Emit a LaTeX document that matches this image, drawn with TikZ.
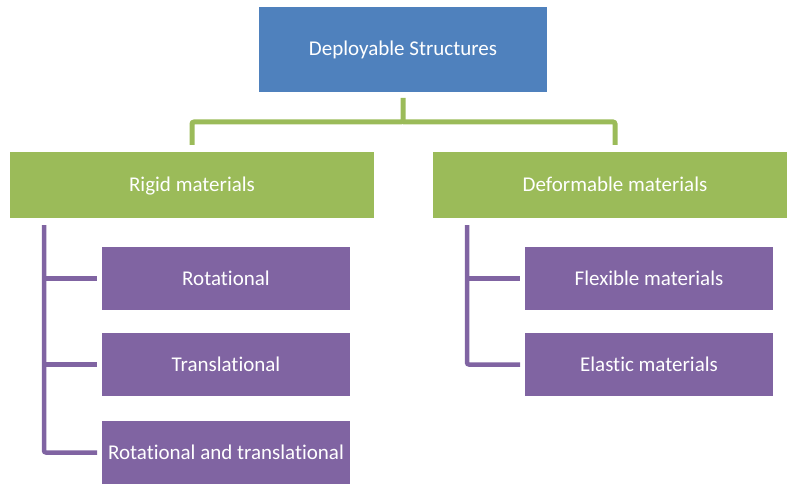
\documentclass[tikz,border=0pt]{standalone}
\usepackage{fontspec}
\setmainfont{Carlito}[Ligatures={NoCommon}]
\definecolor{cblue}{HTML}{4F81BD}
\definecolor{cgreen}{HTML}{9BBB59}
\definecolor{cpurple}{HTML}{8064A2}
\tikzset{
  box/.style={draw=none, text=white, font=\fontsize{21}{24}\selectfont, inner sep=0pt, text height=15.5pt, text depth=2.5pt},
  gline/.style={draw=cgreen, line width=5pt, rounded corners=2pt},
  pline/.style={draw=cpurple, line width=4.5pt, rounded corners=2pt},
}
\begin{document}
\begin{tikzpicture}[x=1pt,y=-1pt]
\useasboundingbox (0,0) rectangle (787,484);
\clip (0,0) rectangle (787,484);
% boxes
\fill[cblue] (259,7) rectangle (547,92);
\node[box] (top) at (403,49.5) {Deployable Structures};
\coordinate (tops) at (403,92);
\fill[cgreen] (10,152) rectangle (374,218);
\node[box] (left) at (192,185) {Rigid materials};
\fill[cgreen] (433,152) rectangle (797,218);
\node[box] (right) at (615,185) {Deformable materials};
\coordinate (ln) at (192,152);
\coordinate (rn) at (615,152);
\coordinate (lsw) at (10,218);
\coordinate (rsw) at (433,218);
\fill[cpurple] (102,247) rectangle (350,310);
\node[box] (r1) at (226,278.5) {Rotational};
\fill[cpurple] (102,333) rectangle (350,396);
\node[box] (r2) at (226,364.5) {Translational};
\fill[cpurple] (102,421) rectangle (350,484);
\node[box] (r3) at (226,452.5) {Rotational and translational};
\fill[cpurple] (525,247) rectangle (773,310);
\node[box] (d1) at (649,278.5) {Flexible materials};
\fill[cpurple] (525,333) rectangle (773,396);
\node[box] (d2) at (649,364.5) {Elastic materials};
\coordinate (r1w) at (102,278.5);
\coordinate (r2w) at (102,364.5);
\coordinate (r3w) at (102,452.5);
\coordinate (d1w) at (525,278.5);
\coordinate (d2w) at (525,364.5);
% green connectors
\draw[gline] ([yshift=-6]tops) -- (403,122) -| ([yshift=7]ln);
\draw[gline] (403,122) -| ([yshift=7]rn);
% purple connectors
\draw[pline] ([xshift=34,yshift=-7]lsw) |- ([xshift=-5]r3w);
\draw[pline] (44,278.5) -- ([xshift=-5]r1w);
\draw[pline] (44,364.5) -- ([xshift=-5]r2w);
\draw[pline] ([xshift=34,yshift=-7]rsw) |- ([xshift=-5]d2w);
\draw[pline] (467,278.5) -- ([xshift=-5]d1w);
\end{tikzpicture}
\end{document}
